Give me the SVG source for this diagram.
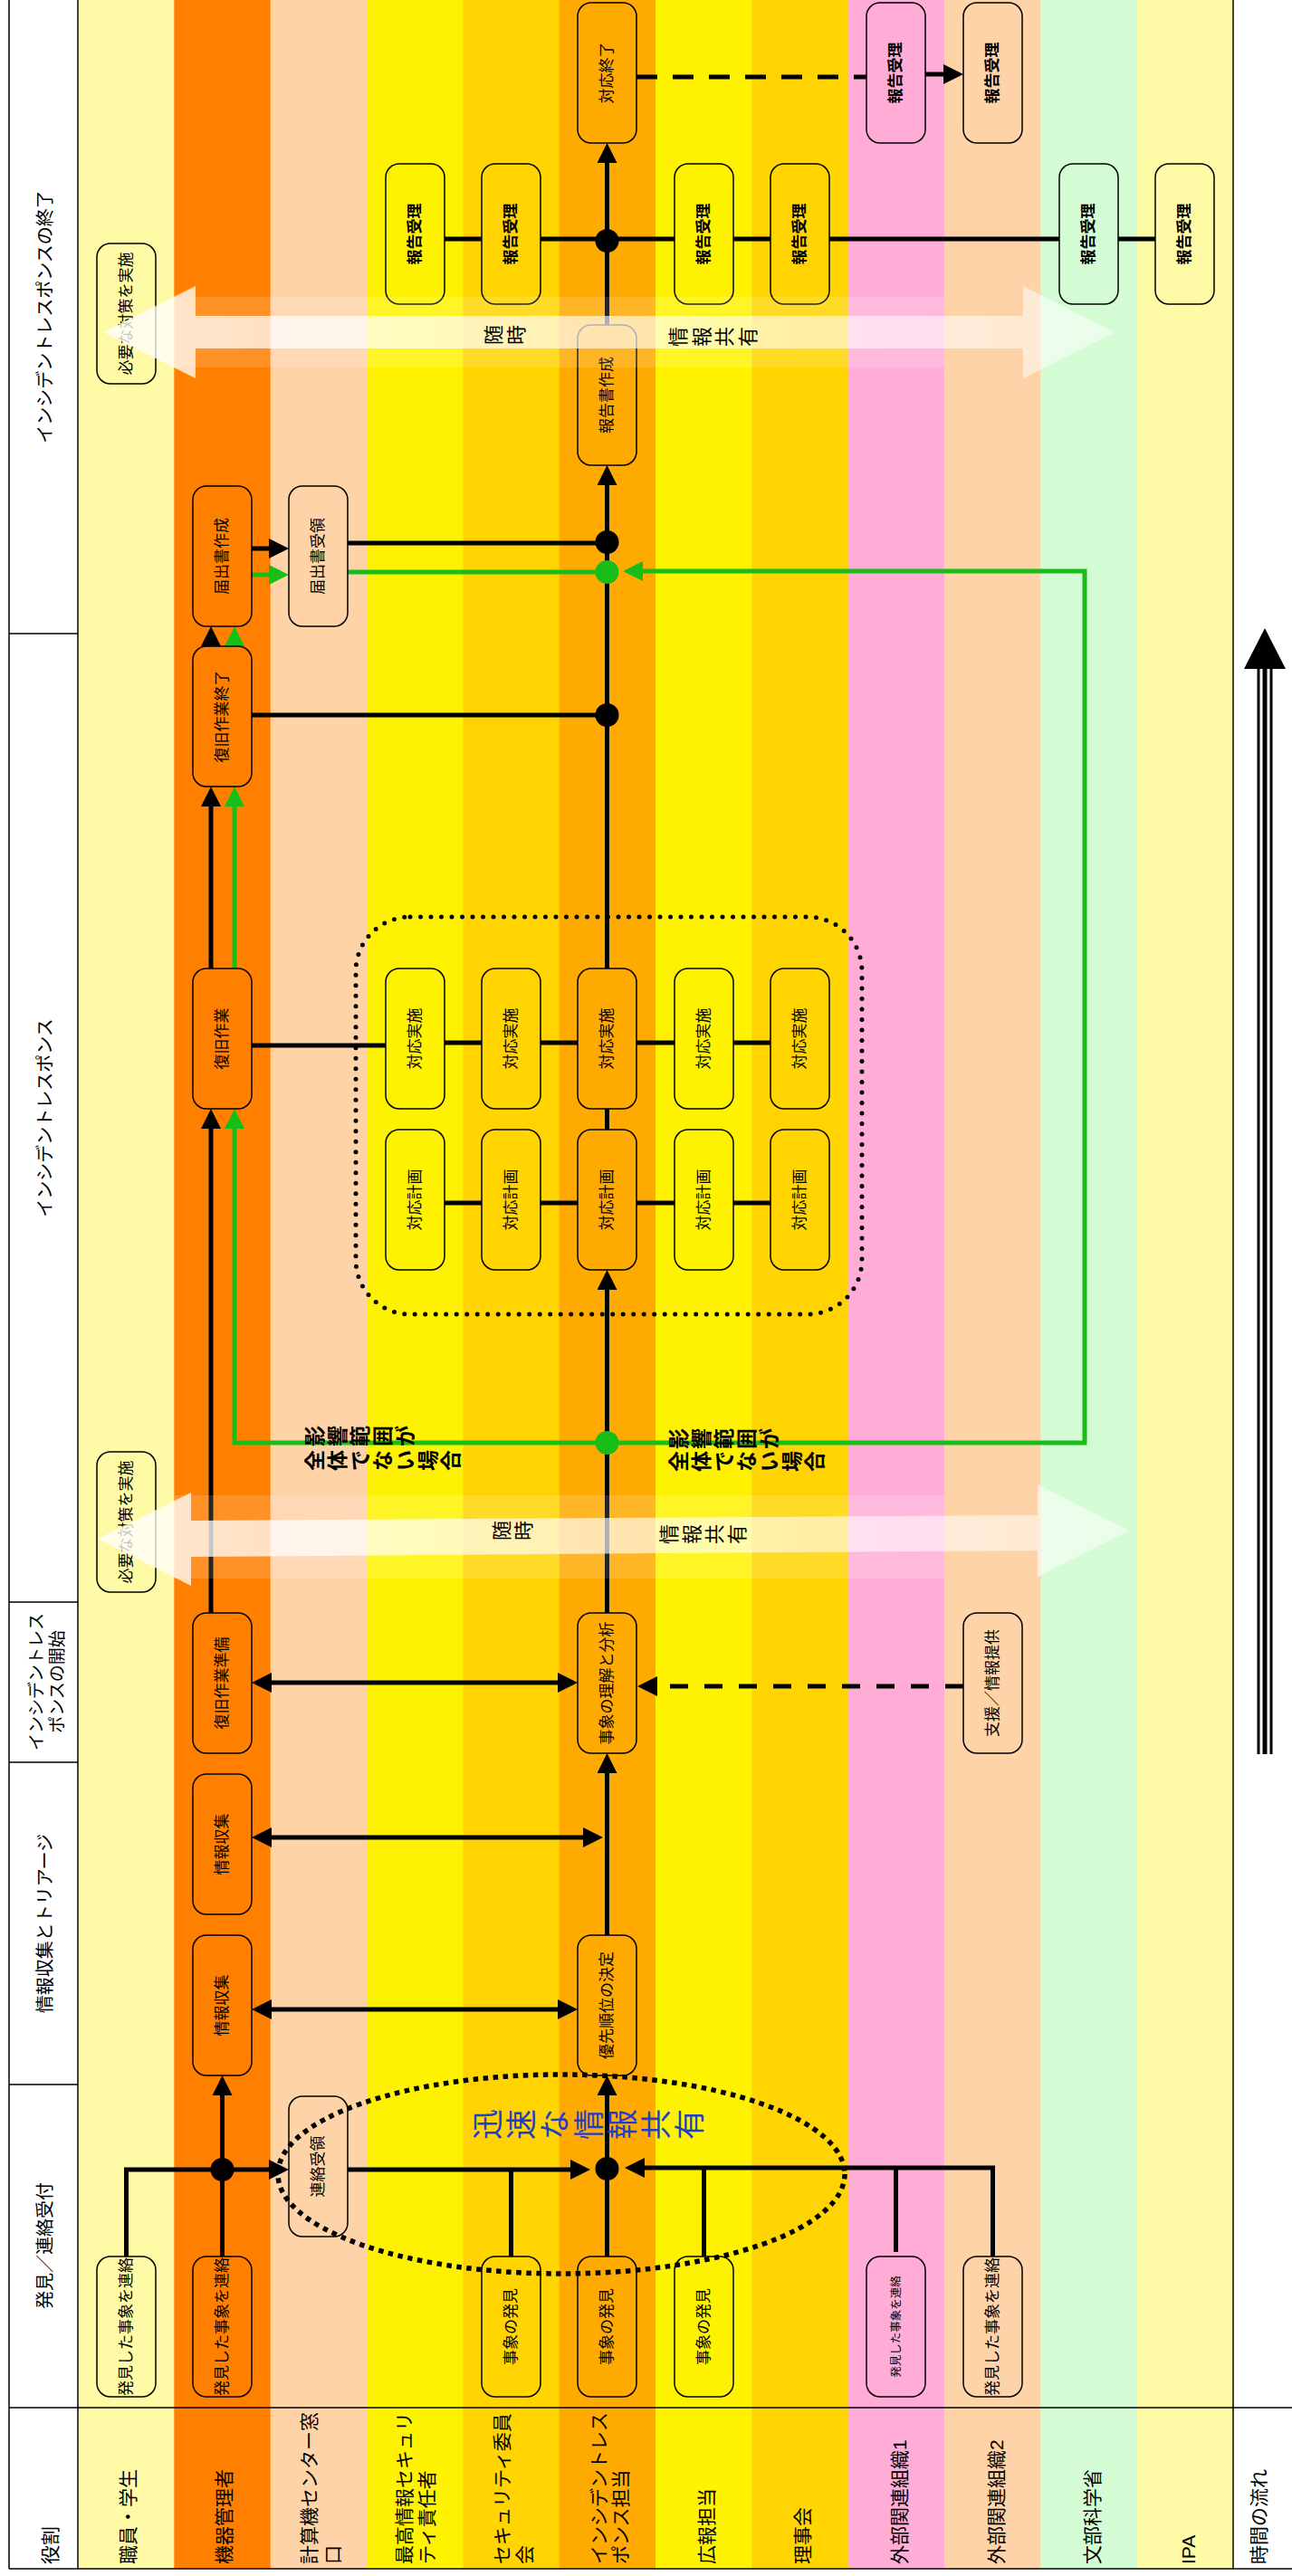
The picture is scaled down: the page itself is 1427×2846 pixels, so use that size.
<svg xmlns="http://www.w3.org/2000/svg" width="1427" height="2846" viewBox="0 0 1427 2846">
<defs>
<style>
.f{font-family:"Liberation Sans","Noto Sans CJK JP",sans-serif;fill:#000}
.nt{font-family:"Liberation Sans","Noto Sans CJK JP",sans-serif;font-size:17px;text-anchor:middle;dominant-baseline:central;fill:#000}
.b{font-weight:bold}
.node{stroke:#000;stroke-width:1.5}
.ln{fill:none;stroke:#000;stroke-width:5}
.gl{fill:none;stroke:#18BE18;stroke-width:5}
.dash{stroke-dasharray:20 18}
.y1{fill:#FFFAA5}.or{fill:#FF7F00}.pe{fill:#FFD3A8}.ye{fill:#FFF200}.go{fill:#FFD400}.am{fill:#FFAA00}.pk{fill:#FFADD6}.gr{fill:#D4FCD4}
.lbl{font-size:21px;dominant-baseline:central}
.ph{font-size:20px;text-anchor:middle;dominant-baseline:central}
.fr{stroke:#000;stroke-width:1.5;fill:none}
.dot{fill:#000}
.gdot{fill:#18BE18}
</style>
<marker id="ah" viewBox="0 0 22 22" refX="12" refY="11" markerWidth="22" markerHeight="22" markerUnits="userSpaceOnUse" orient="auto-start-reverse"><path d="M0,0L22,11L0,22z" fill="#000"/></marker>
<marker id="ahg" viewBox="0 0 22 22" refX="12" refY="11" markerWidth="22" markerHeight="22" markerUnits="userSpaceOnUse" orient="auto-start-reverse"><path d="M0,0L22,11L0,22z" fill="#18BE18"/></marker>
<linearGradient id="bandFill" x1="0" y1="0" x2="1" y2="0"><stop offset="0" stop-color="#fff" stop-opacity="0.78"/><stop offset="1" stop-color="#fff" stop-opacity="0.5"/></linearGradient>
</defs>
<rect x="0" y="0" width="1427" height="2846" fill="#fff"/>
<g id="lanes">
<rect class="y1" x="86" y="0" width="106.8" height="2838"/>
<rect class="or" x="192.3" y="0" width="106.8" height="2838"/>
<rect class="pe" x="298.7" y="0" width="106.8" height="2838"/>
<rect class="ye" x="405" y="0" width="106.8" height="2838"/>
<rect class="go" x="511.3" y="0" width="106.8" height="2838"/>
<rect class="am" x="617.7" y="0" width="106.8" height="2838"/>
<rect class="ye" x="724" y="0" width="106.8" height="2838"/>
<rect class="go" x="830.3" y="0" width="106.8" height="2838"/>
<rect class="pk" x="936.7" y="0" width="106.8" height="2838"/>
<rect class="pe" x="1043" y="0" width="106.8" height="2838"/>
<rect class="gr" x="1149.3" y="0" width="106.8" height="2838"/>
<rect class="y1" x="1255.7" y="0" width="106.3" height="2838"/>
</g>
<g id="frame">
<line class="fr" x1="10" y1="0" x2="10" y2="2838"/>
<line class="fr" x1="86" y1="0" x2="86" y2="2838"/>
<line class="fr" x1="1362" y1="0" x2="1362" y2="2838"/>
<line class="fr" x1="10" y1="2660" x2="1427" y2="2660"/>
<line class="fr" x1="10" y1="2838" x2="1427" y2="2838"/>
<line class="fr" x1="10" y1="700" x2="86" y2="700"/>
<line class="fr" x1="10" y1="1770" x2="86" y2="1770"/>
<line class="fr" x1="10" y1="1947" x2="86" y2="1947"/>
<line class="fr" x1="10" y1="2303" x2="86" y2="2303"/>
</g>
<g id="phase-labels">
<text class="f ph" transform="translate(50,350) rotate(-90)">インシデントレスポンスの終了</text>
<text class="f ph" transform="translate(50,1235) rotate(-90)">インシデントレスポンス</text>
<text class="f ph" style="font-size:19px" transform="translate(40,1858) rotate(-90)">インシデントレス</text>
<text class="f ph" style="font-size:19px" transform="translate(63,1858) rotate(-90)">ポンスの開始</text>
<text class="f ph" transform="translate(50,2125) rotate(-90)">情報収集とトリアージ</text>
<text class="f ph" transform="translate(50,2481) rotate(-90)">発見／連絡受付</text>
</g>
<g id="role-labels">
<text class="f lbl" transform="translate(55,2833) rotate(-90)">役割</text>
<text class="f lbl" transform="translate(141,2833) rotate(-90)">職員・学生</text>
<text class="f lbl" transform="translate(247,2833) rotate(-90)">機器管理者</text>
<text class="f lbl" transform="translate(341,2833) rotate(-90)">計算機センター窓</text>
<text class="f lbl" transform="translate(367,2833) rotate(-90)">口</text>
<text class="f lbl" transform="translate(446,2833) rotate(-90)">最高情報セキュリ</text>
<text class="f lbl" transform="translate(471,2833) rotate(-90)">ティ責任者</text>
<text class="f lbl" transform="translate(554,2833) rotate(-90)">セキュリティ委員</text>
<text class="f lbl" transform="translate(579,2833) rotate(-90)">会</text>
<text class="f lbl" transform="translate(661,2833) rotate(-90)">インシデントレス</text>
<text class="f lbl" transform="translate(685,2833) rotate(-90)">ポンス担当</text>
<text class="f lbl" transform="translate(780,2833) rotate(-90)">広報担当</text>
<text class="f lbl" transform="translate(886,2833) rotate(-90)">理事会</text>
<text class="f lbl" transform="translate(993,2833) rotate(-90)">外部関連組織1</text>
<text class="f lbl" transform="translate(1100,2833) rotate(-90)">外部関連組織2</text>
<text class="f lbl" transform="translate(1206,2833) rotate(-90)">文部科学省</text>
<text class="f lbl" transform="translate(1312,2833) rotate(-90)">IPA</text>
<text class="f lbl" transform="translate(1390,2833) rotate(-90)">時間の流れ</text>
</g>
<g id="time-arrow">
<line x1="1390" y1="737" x2="1390" y2="1938" stroke="#000" stroke-width="3"/>
<line x1="1397" y1="737" x2="1397" y2="1938" stroke="#000" stroke-width="5"/>
<line x1="1404" y1="737" x2="1404" y2="1938" stroke="#000" stroke-width="3"/>
<polygon points="1397,694 1420,739 1374,739" fill="#000"/>
</g>
<g id="connectors">
<path class="ln" d="M670.5,359V168" marker-end="url(#ah)"/>
<path class="ln" d="M490,264H1277"/>
<path class="ln" d="M670.5,1070V524" marker-end="url(#ah)"/>
<path class="ln" d="M384,600H670.5"/>
<path class="gl" d="M384,632H670.5"/>
<path class="ln" d="M278,606H309" marker-end="url(#ah)"/>
<path class="gl" d="M278,635H309" marker-end="url(#ahg)"/>
<path class="ln" d="M233,714V702" marker-end="url(#ah)"/>
<path class="gl" d="M259,714V702" marker-end="url(#ahg)"/>
<path class="ln" d="M233,1070V879" marker-end="url(#ah)"/>
<path class="gl" d="M259,1070V879" marker-end="url(#ahg)"/>
<path class="ln" d="M278,790H670.5"/>
<path class="ln" d="M278,1155H426"/>
<path class="ln" d="M490,1152H851"/>
<path class="ln" d="M490,1329H851"/>
<path class="ln" d="M670.5,1225V1248"/>
<path class="ln" d="M670.5,1782V1413" marker-end="url(#ah)"/>
<path class="ln" d="M233,1782V1235" marker-end="url(#ah)"/>
<path class="gl" d="M259,1235V1594H1198V631H698" marker-start="url(#ahg)" marker-end="url(#ahg)"/>
<path class="ln" d="M288,1859H628" marker-start="url(#ah)" marker-end="url(#ah)"/>
<path class="ln" d="M288,2030H656" marker-start="url(#ah)" marker-end="url(#ah)"/>
<path class="ln" d="M288,2220H628" marker-start="url(#ah)" marker-end="url(#ah)"/>
<path class="ln dash" d="M1064,1863H714" marker-end="url(#ah)"/>
<path class="ln" d="M670.5,2138V1947" marker-end="url(#ah)"/>
<path class="ln" d="M670.5,2493V2303" marker-end="url(#ah)"/>
<path class="ln" d="M245.5,2493V2303" marker-end="url(#ah)"/>
<path class="ln" d="M139.5,2493V2397H309" marker-end="url(#ah)"/>
<path class="ln" d="M384,2397H642" marker-end="url(#ah)"/>
<path class="ln" d="M564.5,2493V2397"/>
<path class="ln" d="M1096.5,2493V2395H700" marker-end="url(#ah)"/>
<path class="ln" d="M777.5,2493V2395"/>
<path class="ln" d="M989.5,2488V2395"/>
<path class="ln" style="stroke-dasharray:23 17" d="M703,85H957"/>
<path class="ln" d="M1022,82H1054" marker-end="url(#ah)"/>
<circle class="dot" cx="245.5" cy="2397" r="13"/>
<circle class="dot" cx="670.5" cy="2396" r="13"/>
<circle class="dot" cx="670.5" cy="266" r="13"/>
<circle class="dot" cx="670.5" cy="599" r="13"/>
<circle class="dot" cx="670.5" cy="790" r="13"/>
<circle class="gdot" cx="670.5" cy="632" r="13"/>
<circle class="gdot" cx="670.5" cy="1594" r="13"/>
</g>
<g id="n-taiou-shuryo"><rect class="node am" x="638" y="3" width="65" height="155" rx="15"/><text class="nt" transform="translate(670.5,80.5) rotate(-90)">対応終了</text></g>
<g id="n-hokoku-gaibu1a"><rect class="node pk" x="957" y="3" width="65" height="155" rx="15"/><text class="nt b" transform="translate(989.5,80.5) rotate(-90)">報告受理</text></g>
<g id="n-hokoku-gaibu2a"><rect class="node pe" x="1064" y="3" width="65" height="155" rx="15"/><text class="nt b" transform="translate(1096.5,80.5) rotate(-90)">報告受理</text></g>
<g id="n-hokoku-ciso"><rect class="node ye" x="426" y="181" width="65" height="155" rx="15"/><text class="nt b" transform="translate(458.5,258.5) rotate(-90)">報告受理</text></g>
<g id="n-hokoku-iinkai"><rect class="node go" x="532" y="181" width="65" height="155" rx="15"/><text class="nt b" transform="translate(564.5,258.5) rotate(-90)">報告受理</text></g>
<g id="n-hokoku-koho"><rect class="node ye" x="745" y="181" width="65" height="155" rx="15"/><text class="nt b" transform="translate(777.5,258.5) rotate(-90)">報告受理</text></g>
<g id="n-hokoku-rijikai"><rect class="node go" x="851" y="181" width="65" height="155" rx="15"/><text class="nt b" transform="translate(883.5,258.5) rotate(-90)">報告受理</text></g>
<g id="n-hokoku-monka"><rect class="node gr" x="1170" y="181" width="65" height="155" rx="15"/><text class="nt b" transform="translate(1202.5,258.5) rotate(-90)">報告受理</text></g>
<g id="n-hokoku-ipa"><rect class="node y1" x="1276" y="181" width="65" height="155" rx="15"/><text class="nt b" transform="translate(1308.5,258.5) rotate(-90)">報告受理</text></g>
<g id="n-hitsuyo-1"><rect class="node y1" x="107" y="269" width="65" height="155" rx="15"/><text class="nt" transform="translate(139.5,346.5) rotate(-90)">必要な対策を実施</text></g>
<g id="n-hokokusho"><rect class="node am" x="638" y="359" width="65" height="155" rx="15"/><text class="nt" transform="translate(670.5,436.5) rotate(-90)">報告書作成</text></g>
<g id="n-todokede"><rect class="node or" x="213" y="537" width="65" height="155" rx="15"/><text class="nt" transform="translate(245.5,614.5) rotate(-90)">届出書作成</text></g>
<g id="n-todokede-juryo"><rect class="node pe" x="319" y="537" width="65" height="155" rx="15"/><text class="nt" transform="translate(351.5,614.5) rotate(-90)">届出書受領</text></g>
<g id="n-fukkyu-shuryo"><rect class="node or" x="213" y="714" width="65" height="155" rx="15"/><text class="nt" transform="translate(245.5,791.5) rotate(-90)">復旧作業終了</text></g>
<g id="n-fukkyu"><rect class="node or" x="213" y="1070" width="65" height="155" rx="15"/><text class="nt" transform="translate(245.5,1147.5) rotate(-90)">復旧作業</text></g>
<g id="n-jisshi-4"><rect class="node ye" x="426" y="1070" width="65" height="155" rx="15"/><text class="nt" transform="translate(458.5,1147.5) rotate(-90)">対応実施</text></g>
<g id="n-jisshi-5"><rect class="node go" x="532" y="1070" width="65" height="155" rx="15"/><text class="nt" transform="translate(564.5,1147.5) rotate(-90)">対応実施</text></g>
<g id="n-jisshi-6"><rect class="node am" x="638" y="1070" width="65" height="155" rx="15"/><text class="nt" transform="translate(670.5,1147.5) rotate(-90)">対応実施</text></g>
<g id="n-jisshi-7"><rect class="node ye" x="745" y="1070" width="65" height="155" rx="15"/><text class="nt" transform="translate(777.5,1147.5) rotate(-90)">対応実施</text></g>
<g id="n-jisshi-8"><rect class="node go" x="851" y="1070" width="65" height="155" rx="15"/><text class="nt" transform="translate(883.5,1147.5) rotate(-90)">対応実施</text></g>
<g id="n-keikaku-4"><rect class="node ye" x="426" y="1248" width="65" height="155" rx="15"/><text class="nt" transform="translate(458.5,1325.5) rotate(-90)">対応計画</text></g>
<g id="n-keikaku-5"><rect class="node go" x="532" y="1248" width="65" height="155" rx="15"/><text class="nt" transform="translate(564.5,1325.5) rotate(-90)">対応計画</text></g>
<g id="n-keikaku-6"><rect class="node am" x="638" y="1248" width="65" height="155" rx="15"/><text class="nt" transform="translate(670.5,1325.5) rotate(-90)">対応計画</text></g>
<g id="n-keikaku-7"><rect class="node ye" x="745" y="1248" width="65" height="155" rx="15"/><text class="nt" transform="translate(777.5,1325.5) rotate(-90)">対応計画</text></g>
<g id="n-keikaku-8"><rect class="node go" x="851" y="1248" width="65" height="155" rx="15"/><text class="nt" transform="translate(883.5,1325.5) rotate(-90)">対応計画</text></g>
<g id="n-hitsuyo-2"><rect class="node y1" x="107" y="1604" width="65" height="155" rx="15"/><text class="nt" transform="translate(139.5,1681.5) rotate(-90)">必要な対策を実施</text></g>
<g id="n-fukkyu-junbi"><rect class="node or" x="213" y="1782" width="65" height="155" rx="15"/><text class="nt" transform="translate(245.5,1859.5) rotate(-90)">復旧作業準備</text></g>
<g id="n-rikai"><rect class="node am" x="638" y="1782" width="65" height="155" rx="15"/><text class="nt" transform="translate(670.5,1859.5) rotate(-90)">事象の理解と分析</text></g>
<g id="n-shien"><rect class="node pe" x="1064" y="1782" width="65" height="155" rx="15"/><text class="nt" transform="translate(1096.5,1859.5) rotate(-90)">支援／情報提供</text></g>
<g id="n-joho-2"><rect class="node or" x="213" y="1960" width="65" height="155" rx="15"/><text class="nt" transform="translate(245.5,2037.5) rotate(-90)">情報収集</text></g>
<g id="n-joho-1"><rect class="node or" x="213" y="2138" width="65" height="155" rx="15"/><text class="nt" transform="translate(245.5,2215.5) rotate(-90)">情報収集</text></g>
<g id="n-yusen"><rect class="node am" x="638" y="2138" width="65" height="155" rx="15"/><text class="nt" transform="translate(670.5,2215.5) rotate(-90)">優先順位の決定</text></g>
<g id="n-renraku-juryo"><rect class="node pe" x="319" y="2316" width="65" height="155" rx="15"/><text class="nt" transform="translate(351.5,2393.5) rotate(-90)">連絡受領</text></g>
<g id="n-hakken-shokuin"><rect class="node y1" x="107" y="2493" width="65" height="155" rx="15"/><text class="nt" transform="translate(139.5,2570.5) rotate(-90)">発見した事象を連絡</text></g>
<g id="n-hakken-kiki"><rect class="node or" x="213" y="2493" width="65" height="155" rx="15"/><text class="nt" transform="translate(245.5,2570.5) rotate(-90)">発見した事象を連絡</text></g>
<g id="n-hakken-iinkai"><rect class="node go" x="532" y="2493" width="65" height="155" rx="15"/><text class="nt" transform="translate(564.5,2570.5) rotate(-90)">事象の発見</text></g>
<g id="n-hakken-ir"><rect class="node am" x="638" y="2493" width="65" height="155" rx="15"/><text class="nt" transform="translate(670.5,2570.5) rotate(-90)">事象の発見</text></g>
<g id="n-hakken-koho"><rect class="node ye" x="745" y="2493" width="65" height="155" rx="15"/><text class="nt" transform="translate(777.5,2570.5) rotate(-90)">事象の発見</text></g>
<g id="n-hakken-gaibu1"><rect class="node pk" x="957" y="2493" width="65" height="155" rx="15"/><text class="nt" style="font-size:12.5px" transform="translate(989.5,2570.5) rotate(-90)">発見した事象を連絡</text></g>
<g id="n-hakken-gaibu2"><rect class="node pe" x="1064" y="2493" width="65" height="155" rx="15"/><text class="nt" transform="translate(1096.5,2570.5) rotate(-90)">発見した事象を連絡</text></g>
<g id="groupings">
<rect x="393" y="1013" width="559" height="439" rx="60" fill="none" stroke="#000" stroke-width="5" stroke-linecap="round" stroke-dasharray="0 11.5"/>
<ellipse cx="620" cy="2402" rx="313" ry="110" fill="none" stroke="#000" stroke-width="5.5" stroke-dasharray="5.5 5.5"/>
<text class="f" x="551" y="2364" rotate="-90" font-size="34" letter-spacing="3.2" style="fill:#1F3FC4">迅速な情報共有</text>
</g>
<g id="share-band-top">
<rect x="192" y="328" width="851" height="78" fill="#fff" opacity="0.15"/>
<polygon points="114,367 216,316 216,349 1130,349 1130,316 1231,367 1130,418 1130,385 216,385 216,418" fill="url(#bandFill)"/>
<text class="f" x="553" y="381" rotate="-90" font-size="22" letter-spacing="3">随時</text>
<text class="f" x="757" y="383" rotate="-90" font-size="22" letter-spacing="3.6">情報共有</text>
</g>
<g id="share-band-mid">
<rect x="192" y="1652" width="851" height="92" fill="#fff" opacity="0.15"/>
<polygon points="108,1700 211,1649 211,1680 1146,1674 1146,1640 1247,1691 1146,1742 1146,1713 211,1720 211,1752" fill="url(#bandFill)"/>
<text class="f" x="562" y="1702" rotate="-90" font-size="22" letter-spacing="2">随時</text>
<text class="f" x="747" y="1706" rotate="-90" font-size="22" letter-spacing="3">情報共有</text>
</g>
<g id="condition-labels">
<text class="f b" x="356" y="1598" rotate="-90" font-size="23" letter-spacing="2">影響範囲が</text>
<text class="f b" x="356" y="1625" rotate="-90" font-size="23" letter-spacing="2">全体でない場合</text>
<text class="f b" x="758" y="1601" rotate="-90" font-size="23" letter-spacing="2">影響範囲が</text>
<text class="f b" x="758" y="1626" rotate="-90" font-size="23" letter-spacing="2">全体でない場合</text>
</g>
</svg>
